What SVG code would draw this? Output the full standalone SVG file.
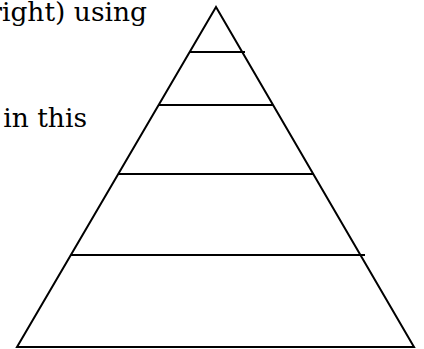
<svg xmlns="http://www.w3.org/2000/svg" width="424" height="349" viewBox="0 0 424 349">
<style>
.t{font-family:"DejaVu Serif","Liberation Serif",serif;font-size:26.5px;fill:#000}
.s{stroke:#000;stroke-width:2;fill:none}
</style>
<rect width="424" height="349" fill="#fff"/>
<g id="text">
<text class="t" x="147" y="21" text-anchor="end">right) using</text>
<text class="t" x="87" y="127" text-anchor="end">in this</text>
</g>
<g id="pyramid">
<polygon class="s" points="216,7 17,347 414,347" stroke-linejoin="miter"/>
<line class="s" x1="189" y1="52" x2="245" y2="52"/>
<line class="s" x1="159" y1="105" x2="273" y2="105"/>
<line class="s" x1="118" y1="174" x2="314" y2="174"/>
<line class="s" x1="71" y1="255" x2="365" y2="255"/>
</g>
</svg>
